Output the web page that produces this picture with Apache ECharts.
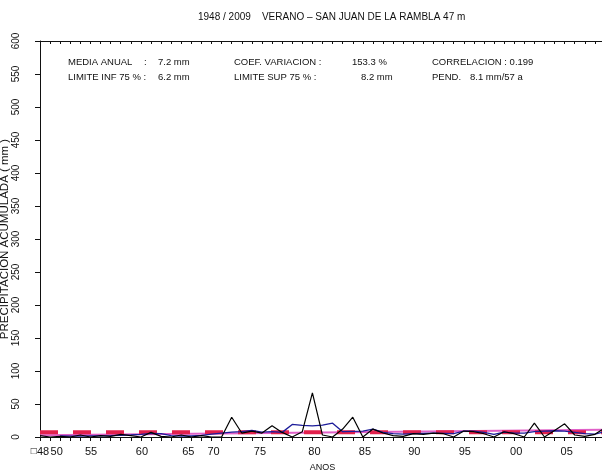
<!DOCTYPE html>
<html>
<head>
<meta charset="utf-8">
<script src="https://cdn.jsdelivr.net/npm/echarts@6/dist/echarts.min.js"></script>
<style>
html,body{margin:0;padding:0;background:#fff;}
#chart{width:602px;height:473px;}
</style>
</head>
<body>
<div id="chart"></div>
<script>
// ---- data ----
const years = [1953,1954,1955,1956,1957,1958,1959,1960,1961,1962,1963,1964,1965,1966,1967,1968,1969,1970,1971,1972,1973,1974,1975,1976,1977,1978,1979,1980,1981,1982,1983,1984,1985,1986,1987,1988,1989,1990,1991,1992,1993,1994,1995,1996,1997,1998,1999,2000,2001,2002,2003,2004,2005,2006,2007,2008,2009];
const precip = [2,0,1,0,3,0,2,1,4,2,0,7,1,0,3,0,2,0,0,30,6,9,6,17,7,0,8,67,3,0,12,30,0,12,6,2,1,5,4,6,5,0,9,8,5,0,8,5,0,21,0,10,20,3,1,4,14];
const smoothed = [null,null,1.5,1.2,1.3,1.8,1.6,2.0,2.6,3.2,4.0,5.5,5.0,2.0,1.5,1.5,2.5,4.5,6,7.5,8,10,7.5,8,7,19,17.5,17,18,21,8,8.5,9,12,7,5,4.5,5,5.5,6,5.5,5,9,9,7,4,7.5,6,6,8,9,9.5,9,7,5,4.5,8];
const meanValue = 7.2;
const trendEnds = [2.8, 10.9];
const xTickLabels = ['\u25A148','50','55','60','65','70','75','80','85','90','95','00','05'];
const yTicks = [0,50,100,150,200,250,300,350,400,450,500,550,600];
const titleText = '1948 / 2009    VERANO \u2013 SAN JUAN DE LA RAMBLA 47 m';
const statsRow1 = ['MEDIA ANUAL', ':', '7.2 mm', 'COEF. VARIACION :', '153.3 %', 'CORRELACION : 0.199'];
const statsRow2 = ['LIMITE INF 75 % :', '6.2 mm', 'LIMITE SUP 75 % :', '8.2 mm', 'PEND.', '8.1 mm/57 a'];

// ---- layout (positions of label slots, in year-index units) ----
const xTickLabelAt = [0,1.65,5.06,10.1,14.7,17.2,21.8,27.2,32.2,37.1,42.1,47.2,52.2];
const nYears = years.length;
const idx = years.map((y,i)=>i);

const FONT = '"Liberation Sans", Arial, sans-serif';
const chart = echarts.init(document.getElementById('chart'), null, {renderer:'canvas'});

function txt(t, x, y, size){
  return {type:'text', x:x, y:y, style:{text:t, fill:'#111', font: size + 'px ' + FONT, verticalAlign:'middle'}};
}

const option = {
  animation:false,
  backgroundColor:'#fff',
  grid:{left:40, top:41, width:565, height:396, containLabel:false, outerBoundsMode:'none'},
  xAxis:[{
    type:'value', min:0, max:nYears-1, interval:1, position:'bottom',
    axisLine:{show:true, onZero:false, lineStyle:{color:'#111', width:1}},
    axisTick:{show:true, inside:false, length:4, lineStyle:{color:'#111'}},
    axisLabel:{show:true, customValues:xTickLabelAt, margin:9, color:'#111', fontSize:11, fontFamily:FONT,
      hideOverlap:false, showMinLabel:true, showMaxLabel:true,
      rich:{s:{fontSize:10, fontFamily:FONT, color:'#111'}},
      formatter:function(v){ for(let i=0;i<xTickLabelAt.length;i++){ if(Math.abs(xTickLabelAt[i]-v)<1e-6) return xTickLabels[i].replace('\u25A1','{s|\u25A1}'); } return ''; }},
    splitLine:{show:false},
    name:'ANOS', nameLocation:'middle', nameGap:26, nameMoveOverlap:false, nameTextStyle:{color:'#111', fontSize:9, fontFamily:FONT}
  },{
    type:'value', min:0, max:nYears-1, interval:1, position:'top',
    axisLine:{show:true, onZero:false, lineStyle:{color:'#111', width:1}},
    axisTick:{show:true, inside:true, length:3, lineStyle:{color:'#111'}},
    axisLabel:{show:false}, splitLine:{show:false}
  }],
  yAxis:{
    type:'value', min:yTicks[0], max:yTicks[yTicks.length-1], interval:yTicks[1]-yTicks[0],
    axisLine:{show:true, lineStyle:{color:'#111', width:1}},
    axisTick:{show:true, inside:false, length:5, lineStyle:{color:'#111'}},
    axisLabel:{rotate:90, margin:19, color:'#111', fontSize:10, fontFamily:FONT},
    splitLine:{show:false},
    name:'PRECIPITACION ACUMULADA ( mm )', nameLocation:'middle', nameGap:29, nameMoveOverlap:false,
    nameTextStyle:{color:'#111', fontSize:11.5, fontFamily:FONT}
  },
  series:[
    {type:'line', name:'trend', symbol:'none', silent:true,
      data:[[0,trendEnds[0]],[nYears-1,trendEnds[1]]],
      lineStyle:{color:'#e060c8', width:2}},
    {type:'line', name:'mean', symbol:'none', silent:true,
      data:[[0,meanValue],[nYears-1,meanValue]],
      lineStyle:{color:'#e2204c', width:4, type:[18,15]}},
    {type:'line', name:'smoothed', symbol:'none', silent:true,
      data: idx.map(i=>[i, smoothed[i]]), connectNulls:false,
      lineStyle:{color:'#1c1c9a', width:1.3}},
    {type:'line', name:'annual', symbol:'none', silent:true,
      data: idx.map(i=>[i, precip[i]]),
      lineStyle:{color:'#000', width:1.2}}
  ],
  graphic:[
    txt(titleText, 198, 17, 10),
    txt(statsRow1[0], 68, 62, 9.5),
    txt(statsRow1[1], 144, 62, 9.5),
    txt(statsRow1[2], 158, 62, 9.5),
    txt(statsRow1[3], 234, 62, 9.5),
    txt(statsRow1[4], 352, 62, 9.5),
    txt(statsRow1[5], 432, 62, 9.5),
    txt(statsRow2[0], 68, 77, 9.5),
    txt(statsRow2[1], 158, 77, 9.5),
    txt(statsRow2[2], 234, 77, 9.5),
    txt(statsRow2[3], 361, 77, 9.5),
    txt(statsRow2[4], 432, 77, 9.5),
    txt(statsRow2[5], 470, 77, 9.5)
  ]
};
chart.setOption(option);
</script>
</body>
</html>
